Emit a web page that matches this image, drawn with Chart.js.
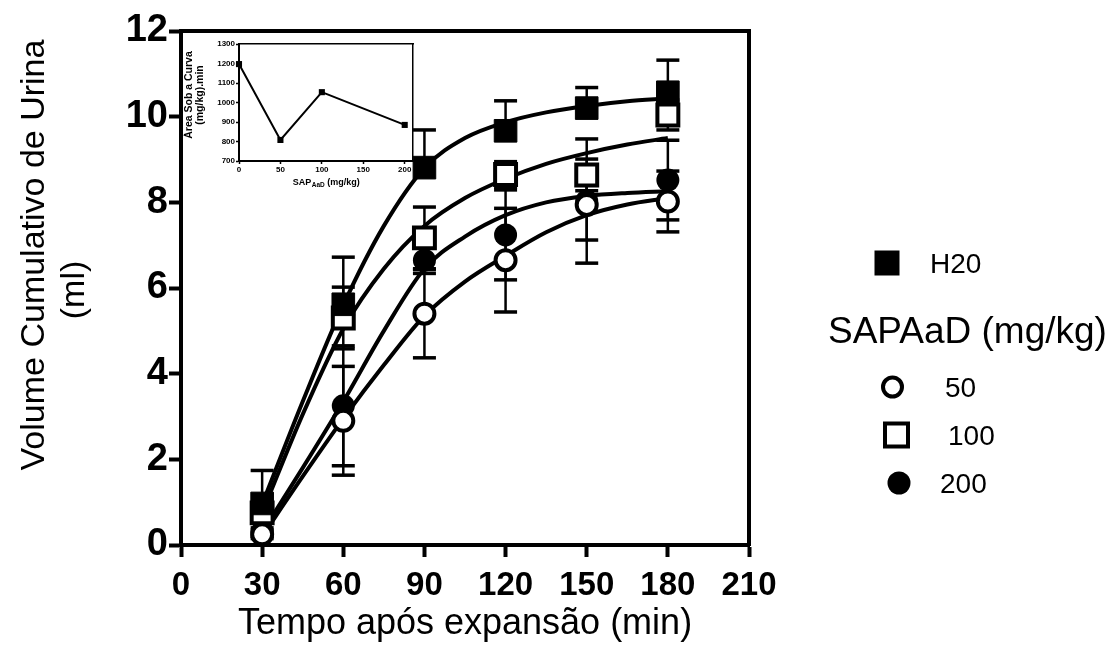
<!DOCTYPE html>
<html>
<head>
<meta charset="utf-8">
<title>Volume cumulativo de urina</title>
<script src="https://cdn.jsdelivr.net/npm/chart.js@4.4.1/dist/chart.umd.min.js"></script>
<style>
  html, body { margin: 0; padding: 0; background: #fff; }
  #wrap { position: relative; width: 1111px; height: 662px; overflow: hidden; }
  #main { position: absolute; left: 0; top: 0; }
  #inset { position: absolute; left: 180px; top: 36px; }
</style>
</head>
<body>
<div id="wrap">
  <canvas id="main" width="1111" height="662"></canvas>
  <canvas id="inset" width="245" height="160"></canvas>
</div>
<script>
  'use strict';

  // ---- data ----
  const minutes = [30, 60, 90, 120, 150, 180];

  const h2oMean = [0.97, 5.62, 8.81, 9.67, 10.2, 10.57];
  const h2oErrUp = [0.77, 1.1, 0.88, 0.7, 0.48, 0.75];
  const h2oErrDown = [0, 0, 0, 0, 0, 0];

  const d50Mean = [0.25, 2.9, 5.4, 6.65, 7.94, 8.02];
  const d50Err = [0.1, 1.27, 1.03, 1.21, 0.82, 0.71];

  const d100Mean = [0.75, 5.3, 7.17, 8.65, 8.64, 10.04];
  const d100Err = [0.1, 0.72, 0.72, 0.3, 0.37, 0.35];

  const d200Mean = [0.3, 3.25, 6.65, 7.24, 8.03, 8.52];
  const d200Err = [0.1, 1.4, 0.31, 1.05, 1.45, 0.93];

  // fitted curves
  const fitMinutes = [30, 45, 60, 75, 90, 105, 120, 135, 150, 165, 180];
  const h2oFit = [0.95, 3.35, 5.6, 7.45, 8.8, 9.5, 9.87, 10.1, 10.25, 10.36, 10.43];
  const d50Fit = [0.2, 1.6, 2.95, 4.2, 5.35, 6.15, 6.75, 7.3, 7.7, 7.95, 8.1];
  const d100Fit = [0.75, 3.05, 5.05, 6.45, 7.45, 8.1, 8.55, 8.9, 9.15, 9.35, 9.5];
  const d200Fit = [0.3, 1.8, 3.35, 5.0, 6.45, 7.2, 7.7, 8.0, 8.15, 8.22, 8.26];

  const xTicks = [0, 30, 60, 90, 120, 150, 180, 210];
  const yTicks = [0, 2, 4, 6, 8, 10, 12];

  // inset: area under the curve
  const doseMgKg = [0, 50, 100, 200];
  const aucValues = [1197, 808, 1053, 885];
  const insetXTicks = [0, 50, 100, 150, 200];
  const insetYTicks = [700, 800, 900, 1000, 1100, 1200, 1300];

  const yTitle = ['Volume Cumulativo de Urina', '(ml)'];
  const xTitle = 'Tempo após expansão (min)';
  const legendLabels = ['H20', '50', '100', '200'];
  const legendTitle = 'SAPAaD (mg/kg)';
  const insetYTitle = ['Área Sob a Curva', '(mg/kg).min'];
  const insetXTitle = ['SAP', 'AaD', ' (mg/kg)'];

  const FONT = "'Liberation Sans', Arial, sans-serif";

  const pts = (xs, ys) => xs.map((v, i) => ({ x: v, y: ys[i] }));

  /**
   * Error bars, drawn under curves and symbols
   */
  const errorBars = {
    id: 'errorBars',
    beforeDatasetsDraw(chart) {
      const { ctx, scales: { x, y } } = chart;
      const groups = [
        { mean: h2oMean, up: h2oErrUp, down: h2oErrDown },
        { mean: d100Mean, up: d100Err, down: d100Err },
        { mean: d200Mean, up: d200Err, down: d200Err },
        { mean: d50Mean, up: d50Err, down: d50Err }
      ];
      ctx.save();
      ctx.strokeStyle = '#000';
      groups.forEach(g => {
        minutes.forEach((m, i) => {
          const px = x.getPixelForValue(m);
          const top = y.getPixelForValue(g.mean[i] + g.up[i]);
          const bot = y.getPixelForValue(g.mean[i] - g.down[i]);
          ctx.lineWidth = 2.5;
          ctx.beginPath();
          ctx.moveTo(px, top);
          ctx.lineTo(px, bot);
          ctx.stroke();
          ctx.lineWidth = 3.5;
          if (g.up[i] > 0) {
            ctx.beginPath(); ctx.moveTo(px - 11.5, top); ctx.lineTo(px + 11.5, top); ctx.stroke();
          }
          if (g.down[i] > 0) {
            ctx.beginPath(); ctx.moveTo(px - 11.5, bot); ctx.lineTo(px + 11.5, bot); ctx.stroke();
          }
        });
      });
      ctx.restore();
    }
  };

  /**
   * Y title and the legend on the right
   */
  const sideText = {
    id: 'sideText',
    afterDraw(chart) {
      const ctx = chart.ctx;
      ctx.save();
      ctx.fillStyle = '#000';
      ctx.strokeStyle = '#000';
      ctx.textBaseline = 'middle';

      // y title, two lines
      ctx.font = '34px ' + FONT;
      ctx.textAlign = 'center';
      [[35, 255], [75, 290]].forEach((p, i) => {
        ctx.save();
        ctx.translate(p[0], p[1]);
        ctx.rotate(-Math.PI / 2);
        ctx.fillText(yTitle[i], 0, 0);
        ctx.restore();
      });

      // legend
      ctx.textAlign = 'left';
      ctx.fillRect(887 - 12.5, 263 - 12.5, 25, 25);
      ctx.font = '28px ' + FONT;
      ctx.fillText(legendLabels[0], 930, 265);

      ctx.font = '37px ' + FONT;
      ctx.fillText(legendTitle, 828, 333);

      ctx.lineWidth = 4;
      ctx.beginPath(); ctx.arc(892.5, 387, 9.5, 0, Math.PI * 2); ctx.stroke();
      ctx.strokeRect(896.5 - 11.5, 435 - 11.5, 23, 23);
      ctx.beginPath(); ctx.arc(899, 483, 11.5, 0, Math.PI * 2); ctx.fill();

      ctx.font = '28px ' + FONT;
      ctx.fillText(legendLabels[1], 945, 389);
      ctx.fillText(legendLabels[2], 948, 437);
      ctx.fillText(legendLabels[3], 940, 485);
      ctx.restore();
    }
  };

  const frameAxis = (pos, min, max) => ({
    type: 'linear',
    position: pos,
    min: min,
    max: max,
    ticks: { display: false },
    grid: { drawOnChartArea: false, drawTicks: false },
    border: { display: true, width: 4, color: '#000' },
    afterFit: s => { if (pos === 'top') s.height = 0; else s.width = 0; }
  });

  const markerDefaults = { showLine: false, clip: false, borderColor: '#000', order: 0 };
  const curveDefaults = {
    showLine: true, pointRadius: 0, borderColor: '#000', borderWidth: 4,
    cubicInterpolationMode: 'monotone', clip: false, order: 1
  };

  new Chart(document.getElementById('main'), {
    type: 'scatter',
    data: {
      datasets: [
        Object.assign({ label: legendLabels[0], data: pts(minutes, h2oMean), pointStyle: 'rect', pointRadius: 16, pointBackgroundColor: '#000', pointBorderWidth: 1 }, markerDefaults),
        Object.assign({ label: legendLabels[2], data: pts(minutes, d100Mean), pointStyle: 'rect', pointRadius: 14.8, pointBackgroundColor: '#fff', pointBorderWidth: 4 }, markerDefaults),
        Object.assign({ label: legendLabels[1], data: pts(minutes, d50Mean), pointStyle: 'circle', pointRadius: 10, pointBackgroundColor: '#fff', pointBorderWidth: 4 }, markerDefaults),
        Object.assign({ label: legendLabels[3], data: pts(minutes, d200Mean), pointStyle: 'circle', pointRadius: 11.5, pointBackgroundColor: '#000', pointBorderWidth: 0 }, markerDefaults),
        Object.assign({ label: 'fit H20', data: pts(fitMinutes, h2oFit) }, curveDefaults),
        Object.assign({ label: 'fit 100', data: pts(fitMinutes, d100Fit) }, curveDefaults),
        Object.assign({ label: 'fit 50', data: pts(fitMinutes, d50Fit) }, curveDefaults),
        Object.assign({ label: 'fit 200', data: pts(fitMinutes, d200Fit) }, curveDefaults)
      ]
    },
    options: {
      responsive: false,
      animation: false,
      devicePixelRatio: 1,
      layout: { padding: { left: 0, right: 362, top: 31, bottom: 0 } },
      plugins: { legend: { display: false }, tooltip: { enabled: false } },
      scales: {
        x: {
          type: 'linear',
          min: xTicks[0],
          max: xTicks[xTicks.length - 1],
          afterBuildTicks: s => { s.ticks = xTicks.map(v => ({ value: v })); },
          ticks: { color: '#000', font: { family: FONT, size: 33, weight: 'bold' }, padding: 9, maxRotation: 0, autoSkip: false },
          grid: { drawOnChartArea: false, tickLength: 12, tickWidth: 4, tickColor: '#000' },
          border: { display: true, width: 4, color: '#000' },
          title: { display: true, text: xTitle, color: '#000', font: { family: FONT, size: 36 }, padding: { top: 0, bottom: 16 } },
          afterFit: s => { s.height = 117; }
        },
        y: {
          type: 'linear',
          min: yTicks[0],
          max: yTicks[yTicks.length - 1],
          afterBuildTicks: s => { s.ticks = yTicks.map(v => ({ value: v })); },
          ticks: { color: '#000', font: { family: FONT, size: 38, weight: 'bold' }, padding: 1, autoSkip: false },
          grid: { drawOnChartArea: false, tickLength: 12, tickWidth: 4, tickColor: '#000' },
          border: { display: true, width: 4, color: '#000' },
          afterFit: s => { s.width = 181; }
        },
        x2: frameAxis('top', 0, 210),
        y2: frameAxis('right', 0, 12)
      }
    },
    plugins: [errorBars, sideText]
  });

  /**
   * Inset titles (rotated y title, x title with subscript)
   */
  const insetText = {
    id: 'insetText',
    afterDraw(chart) {
      const ctx = chart.ctx;
      ctx.save();
      ctx.fillStyle = '#000';
      ctx.textBaseline = 'middle';
      ctx.textAlign = 'center';
      ctx.font = 'bold 10.5px ' + FONT;
      [[9, 59], [20, 59]].forEach((p, i) => {
        ctx.save();
        ctx.translate(p[0], p[1]);
        ctx.rotate(-Math.PI / 2);
        ctx.fillText(insetYTitle[i], 0, 0);
        ctx.restore();
      });

      const big = 'bold 9px ' + FONT;
      const small = 'bold 6.5px ' + FONT;
      ctx.font = big;
      const w0 = ctx.measureText(insetXTitle[0]).width;
      const w2 = ctx.measureText(insetXTitle[2]).width;
      ctx.font = small;
      const w1 = ctx.measureText(insetXTitle[1]).width;
      const cx = (chart.chartArea.left + chart.chartArea.right) / 2;
      const x0 = cx - (w0 + w1 + w2) / 2;
      const yy = 147;
      ctx.textAlign = 'left';
      ctx.font = big;
      ctx.fillText(insetXTitle[0], x0, yy);
      ctx.font = small;
      ctx.fillText(insetXTitle[1], x0 + w0 + 0.5, yy + 2.5);
      ctx.font = big;
      ctx.fillText(insetXTitle[2], x0 + w0 + w1 + 0.5, yy);
      ctx.restore();
    }
  };

  const insetFrame = pos => ({
    type: 'linear',
    position: pos,
    ticks: { display: false },
    grid: { drawOnChartArea: false, drawTicks: false },
    border: { display: true, width: 1.5, color: '#000' },
    afterFit: s => { if (pos === 'top') s.height = 0; else s.width = 0; }
  });

  new Chart(document.getElementById('inset'), {
    type: 'scatter',
    data: {
      datasets: [{
        label: 'AUC',
        data: pts(doseMgKg, aucValues),
        showLine: true,
        borderColor: '#000',
        borderWidth: 2,
        tension: 0,
        pointStyle: 'rect',
        pointRadius: 4.3,
        pointBackgroundColor: '#000',
        pointBorderWidth: 0,
        clip: false
      }]
    },
    options: {
      responsive: false,
      animation: false,
      devicePixelRatio: 1,
      layout: { padding: { left: 0, right: 12, top: 8, bottom: 0 } },
      plugins: { legend: { display: false }, tooltip: { enabled: false } },
      scales: {
        x: {
          type: 'linear',
          min: 0,
          max: 210,
          afterBuildTicks: s => { s.ticks = insetXTicks.map(v => ({ value: v })); },
          ticks: { color: '#000', font: { family: FONT, size: 8, weight: 'bold' }, padding: 1, maxRotation: 0, autoSkip: false, callback: v => String(v) },
          grid: { drawOnChartArea: false, tickLength: 3, tickWidth: 1.5, tickColor: '#000' },
          border: { display: true, width: 2, color: '#000' },
          afterFit: s => { s.height = 35; }
        },
        y: {
          type: 'linear',
          min: 700,
          max: 1300,
          afterBuildTicks: s => { s.ticks = insetYTicks.map(v => ({ value: v })); },
          ticks: { color: '#000', font: { family: FONT, size: 8, weight: 'bold' }, padding: 1, autoSkip: false, callback: v => String(v) },
          grid: { drawOnChartArea: false, tickLength: 3, tickWidth: 1.5, tickColor: '#000' },
          border: { display: true, width: 2, color: '#000' },
          afterFit: s => { s.width = 59; }
        },
        x2: insetFrame('top'),
        y2: insetFrame('right')
      }
    },
    plugins: [insetText]
  });
</script>
</body>
</html>
